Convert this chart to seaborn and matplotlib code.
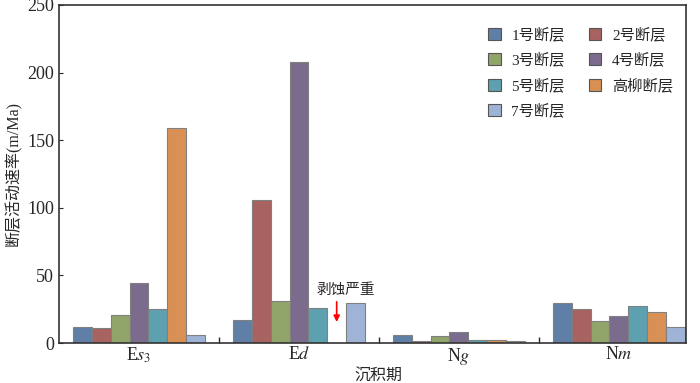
import numpy as np
import pandas as pd
import seaborn as sns
import matplotlib
matplotlib.use('Agg')
import matplotlib.pyplot as plt

# 数据
periods = [r'E$\mathit{s}_{3}$', r'E$\mathit{d}$', r'N$\mathit{g}$', r'N$\mathit{m}$']
faults = ['1号断层', '2号断层', '3号断层', '4号断层', '5号断层', '高柳断层', '7号断层']
f1 = [12, 17, 6, 29.6]
f2 = [11, 105.8, 1.5, 25]
f3 = [21, 31, 5, 16]
f4 = [44.6, 208, 8, 20]
f5 = [25.4, 26, 2.5, 27.6]
f_gl = [159.3, np.nan, 2.5, 22.7]
f7 = [6.2, 29.6, 1.5, 12]
colors = ['#5f7fa6', '#a8625f', '#91a56a', '#7b6b8d', '#5da0b0', '#d99054', '#9fb3d6']

rows = []
for name, vals in zip(faults, [f1, f2, f3, f4, f5, f_gl, f7]):
    for p, v in zip(periods, vals):
        rows.append({'period': p, 'fault': name, 'rate': v})
df = pd.DataFrame(rows).dropna()

sns.set_style('white')
plt.rcParams['font.family'] = ['Liberation Serif', 'Noto Sans CJK SC']
plt.rcParams['mathtext.fontset'] = 'stix'

fig = plt.figure(figsize=(7, 3.83), dpi=100)
ax = fig.add_axes([0.0843, 0.1044, 0.8957, 0.8826])

sns.barplot(data=df, x='period', y='rate', hue='fault', order=periods, hue_order=faults,
            palette=colors, saturation=1, width=0.825, errorbar=None,
            edgecolor='#808080', linewidth=0.8, ax=ax)

ax.set_xlim(-0.5, 3.42)
ax.set_ylim(0, 250)
ax.set_yticks([0, 50, 100, 150, 200, 250])
ax.set_xticks([0, 1, 2, 3])
ax.set_xticklabels(periods, fontsize=13)
ax.set_xticks([0.5, 1.5, 2.5], minor=True)
ax.tick_params(axis='x', which='major', length=0, pad=2)
ax.tick_params(axis='x', which='minor', direction='in', length=4, width=1, bottom=True)
ax.tick_params(axis='y', direction='in', length=3, labelsize=13, left=True)
for s in ax.spines.values():
    s.set_color('#333333')
    s.set_linewidth(1.2)

ax.set_xlabel('沉积期', fontsize=11.5)
ax.xaxis.set_label_coords(0.51, -0.075)
ax.set_ylabel('断层活动速率(m/Ma)', fontsize=11.5, labelpad=4)

# 剥蚀严重 标注
ax.annotate('', xy=(1.236, 13.5), xytext=(1.236, 32.5),
            arrowprops=dict(arrowstyle='-|>', color='red', lw=1.2, mutation_scale=9))
ax.text(1.294, 39, '剥蚀严重', ha='center', va='center', fontsize=10.5)

# 图例按行排列
handles, labels = ax.get_legend_handles_labels()
idx = [0, 2, 4, 6, 1, 3, 5]
leg = ax.legend([handles[i] for i in idx], [labels[i] for i in idx],
                loc='upper left', bbox_to_anchor=(0.663, 0.975), ncol=2, frameon=False,
                fontsize=11, handlelength=0.8, handleheight=0.8, handletextpad=0.7,
                columnspacing=1.6, labelspacing=0.7)
for h in leg.legend_handles:
    h.set_edgecolor('#555555')

fig.savefig('out.png', dpi=100)
